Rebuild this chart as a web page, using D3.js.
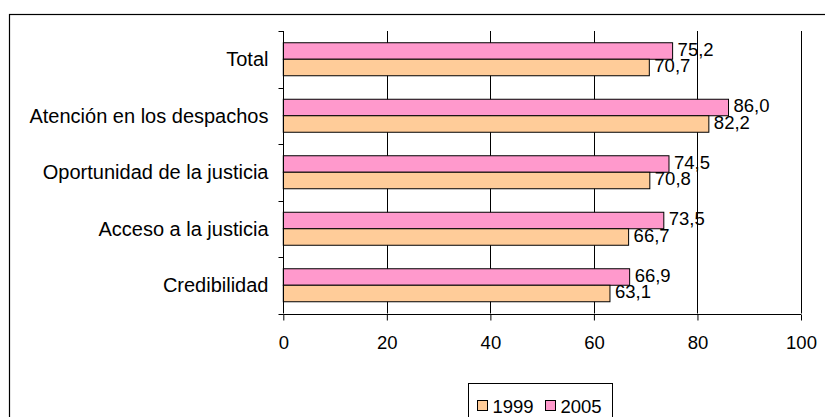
<!DOCTYPE html>
<html>
<head>
<meta charset="utf-8">
<script src="https://cdn.jsdelivr.net/npm/d3@7/dist/d3.min.js"></script>
<style>
  html, body { margin: 0; padding: 0; background: #fff; }
  svg { display: block; font-family: "Liberation Sans", Arial, sans-serif; }
</style>
</head>
<body>
<svg id="chart" width="825" height="417"></svg>
<script>
// Categories, top to bottom
const categories = ["Total", "Atención en los despachos", "Oportunidad de la justicia", "Acceso a la justicia", "Credibilidad"];
// Series values (percent)
const values1999 = [70.7, 82.2, 70.8, 66.7, 63.1];
const values2005 = [75.2, 86.0, 74.5, 73.5, 66.9];
const seriesNames = ["1999", "2005"];
const xTicks = [0, 20, 40, 60, 80, 100];

const colors = { "1999": "#FFCC99", "2005": "#FF99CC" };
const fmt = v => v.toFixed(1).replace(".", ",");

const svg = d3.select("#chart");

// Outer frame
svg.append("rect")
  .attr("x", 9.5).attr("y", 14.5)
  .attr("width", 900).attr("height", 500)
  .attr("fill", "#fff").attr("stroke", "#000").attr("stroke-width", 1.2);

const plotLeft = 283.3, plotRight = 801, plotTop = 31, plotBottom = 313.5;
const x = d3.scaleLinear().domain([0, 100]).range([plotLeft, plotRight]);
const y = d3.scaleBand().domain(categories).range([plotTop, plotBottom]);
const barH = 16.5;

// Vertical gridlines
svg.append("g").selectAll("line")
  .data(xTicks.filter(t => t > 0))
  .join("line")
  .attr("x1", d => Math.round(x(d)) + 0.5).attr("x2", d => Math.round(x(d)) + 0.5)
  .attr("y1", plotTop).attr("y2", plotBottom)
  .attr("stroke", "#000").attr("stroke-width", 1);

// Bars
const rows = categories.map((c, i) => ({ cat: c, v1999: values1999[i], v2005: values2005[i] }));
const g = svg.append("g");
rows.forEach(r => {
  const cy = y(r.cat) + y.bandwidth() / 2;
  const items = [
    { s: "2005", v: r.v2005, y0: cy - barH },
    { s: "1999", v: r.v1999, y0: cy }
  ];
  items.forEach(it => {
    g.append("rect")
      .attr("x", x(0)).attr("y", it.y0)
      .attr("width", x(it.v) - x(0)).attr("height", barH)
      .attr("fill", colors[it.s]).attr("stroke", "#000").attr("stroke-width", 1);
    g.append("text")
      .attr("x", x(it.v) + 5).attr("y", it.y0 + barH / 2 + 4.5)
      .attr("font-size", 18.5).attr("fill", "#000")
      .text(fmt(it.v));
  });
});

// Y axis
const yAxis = svg.append("g").attr("transform", `translate(${Math.round(plotLeft) + 0.5},0)`);
yAxis.append("line").attr("x1", 0).attr("x2", 0).attr("y1", plotTop).attr("y2", plotBottom).attr("stroke", "#000");
const yTickPos = d3.range(categories.length + 1).map(i => plotTop + i * y.bandwidth());
yAxis.selectAll("line.tick").data(yTickPos).join("line").attr("class", "tick")
  .attr("x1", -5).attr("x2", 0).attr("y1", d => Math.round(d) + 0.5).attr("y2", d => Math.round(d) + 0.5)
  .attr("stroke", "#000");
yAxis.selectAll("text").data(categories).join("text")
  .attr("x", -15).attr("y", d => y(d) + y.bandwidth() / 2 + 7)
  .attr("text-anchor", "end").attr("font-size", 20).attr("fill", "#000")
  .text(d => d);

// X axis
const xAxis = svg.append("g").attr("transform", `translate(0,${Math.round(plotBottom) + 0.5})`)
  .call(d3.axisBottom(x).tickValues(xTicks).tickSize(6).tickPadding(15).tickFormat(d3.format("d")));
xAxis.select(".domain").attr("stroke", "#000").attr("d", `M${x(0)},0H${x(100)}`);
xAxis.selectAll(".tick line").attr("stroke", "#000");
xAxis.selectAll(".tick text").attr("font-size", 18.5).attr("font-family", "Liberation Sans, Arial, sans-serif").attr("fill", "#000");

// Legend
const lg = svg.append("g");
lg.append("rect").attr("x", 468.5).attr("y", 383.5).attr("width", 144).attr("height", 50)
  .attr("fill", "#fff").attr("stroke", "#000").attr("stroke-width", 1);
const legendX = [477.5, 545.5];
seriesNames.forEach((s, i) => {
  lg.append("rect").attr("x", legendX[i]).attr("y", 400.5).attr("width", 10).attr("height", 10)
    .attr("fill", colors[s]).attr("stroke", "#000").attr("stroke-width", 1);
  lg.append("text").attr("x", legendX[i] + 15).attr("y", 412.5).attr("font-size", 18.5).attr("fill", "#000").text(s);
});
</script>
</body>
</html>
